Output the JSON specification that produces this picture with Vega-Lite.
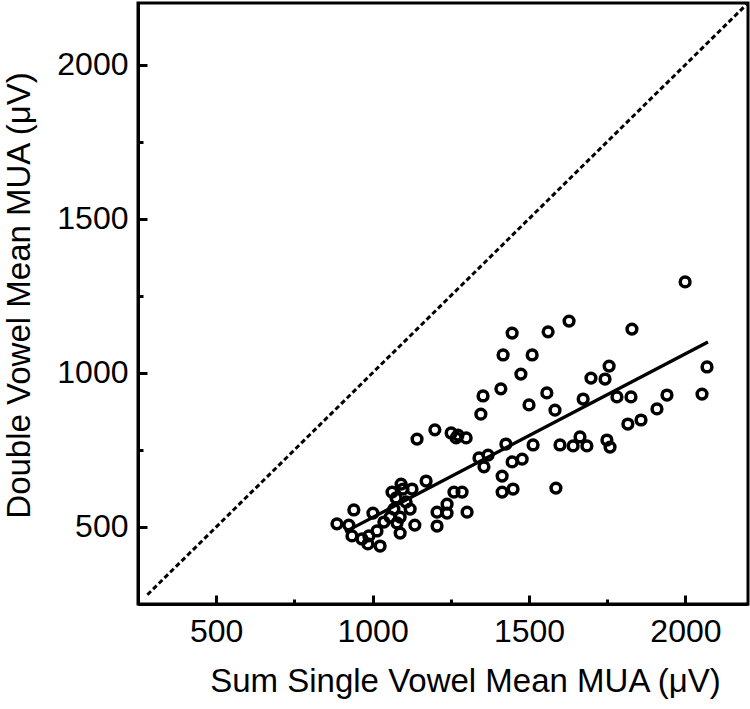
{
  "$schema": "https://vega.github.io/schema/vega-lite/v6.json",
  "autosize": {"type": "none"},
  "width": 610,
  "height": 601,
  "padding": {"left": 138, "top": 3, "right": 2, "bottom": 105},
  "background": "white",
  "config": {
    "view": {"stroke": "black", "strokeWidth": 3},
    "font": "Liberation Sans",
    "axis": {"grid": false, "domainColor": "black", "domainWidth": 3, "tickColor": "black", "labelColor": "black", "titleColor": "black", "labelFont": "Liberation Sans", "titleFont": "Liberation Sans", "titleFontWeight": "normal"}
  },
  "datasets": {
    "pts": [
      {"x": 1999, "y": 1295}, {"x": 1829, "y": 1142}, {"x": 1628, "y": 1168}, {"x": 1561, "y": 1133},
      {"x": 1446, "y": 1129}, {"x": 1417, "y": 1058}, {"x": 1510, "y": 1058}, {"x": 1474, "y": 996},
      {"x": 1410, "y": 948}, {"x": 1353, "y": 925}, {"x": 1346, "y": 866}, {"x": 2069, "y": 1019},
      {"x": 2053, "y": 931}, {"x": 1941, "y": 928}, {"x": 1909, "y": 883}, {"x": 1858, "y": 847},
      {"x": 1816, "y": 834}, {"x": 1826, "y": 922}, {"x": 1781, "y": 922}, {"x": 1673, "y": 915},
      {"x": 1557, "y": 935}, {"x": 1500, "y": 896}, {"x": 1583, "y": 879}, {"x": 1756, "y": 1022},
      {"x": 1698, "y": 983}, {"x": 1743, "y": 980}, {"x": 1426, "y": 769}, {"x": 1513, "y": 766},
      {"x": 1599, "y": 766}, {"x": 1641, "y": 763}, {"x": 1663, "y": 792}, {"x": 1685, "y": 763},
      {"x": 1749, "y": 782}, {"x": 1759, "y": 759}, {"x": 1446, "y": 711}, {"x": 1478, "y": 720},
      {"x": 1414, "y": 665}, {"x": 1449, "y": 623}, {"x": 1414, "y": 613}, {"x": 1586, "y": 626},
      {"x": 1142, "y": 785}, {"x": 1199, "y": 815}, {"x": 1251, "y": 805}, {"x": 1273, "y": 798},
      {"x": 1267, "y": 789}, {"x": 1299, "y": 789}, {"x": 1340, "y": 724}, {"x": 1369, "y": 733},
      {"x": 1356, "y": 695}, {"x": 1171, "y": 649}, {"x": 1091, "y": 639}, {"x": 1126, "y": 623},
      {"x": 1062, "y": 613}, {"x": 1097, "y": 623}, {"x": 1075, "y": 594}, {"x": 1107, "y": 581},
      {"x": 1120, "y": 558}, {"x": 1068, "y": 558}, {"x": 1260, "y": 613}, {"x": 1286, "y": 613},
      {"x": 1238, "y": 574}, {"x": 1206, "y": 548}, {"x": 1238, "y": 545}, {"x": 1302, "y": 548},
      {"x": 1135, "y": 506}, {"x": 1206, "y": 503}, {"x": 1088, "y": 480}, {"x": 1078, "y": 513},
      {"x": 1036, "y": 516}, {"x": 1056, "y": 532}, {"x": 1088, "y": 532}, {"x": 1001, "y": 545},
      {"x": 940, "y": 555}, {"x": 886, "y": 510}, {"x": 924, "y": 506}, {"x": 934, "y": 471},
      {"x": 966, "y": 461}, {"x": 988, "y": 471}, {"x": 985, "y": 445}, {"x": 1024, "y": 438},
      {"x": 1014, "y": 487}
    ],
    "fit": [{"x": 912, "y": 484}, {"x": 2072, "y": 1100}],
    "ident": [{"x": 280, "y": 280}, {"x": 2195, "y": 2195}]
  },
  "resolve": {"axis": {"x": "independent", "y": "independent"}},
  "layer": [
    {
      "data": {"name": "ident"},
      "mark": {"type": "line", "stroke": "black", "strokeWidth": 3, "strokeDash": [5, 3]},
      "encoding": {
        "x": {"field": "x", "type": "quantitative", "scale": {"domain": [250, 2200], "nice": false, "zero": false},
              "axis": {"orient": "bottom", "values": [750, 1250, 1750], "tickSize": -5, "tickWidth": 3, "labels": false, "domain": false, "title": null}},
        "y": {"field": "y", "type": "quantitative", "scale": {"domain": [250, 2200], "nice": false, "zero": false},
              "axis": {"orient": "left", "values": [250, 750, 1250, 1750], "tickSize": -5, "tickWidth": 3, "labels": false, "domain": false, "title": null}}
      }
    },
    {
      "data": {"name": "fit"},
      "mark": {"type": "line", "stroke": "black", "strokeWidth": 3.3},
      "encoding": {
        "x": {"field": "x", "type": "quantitative",
              "axis": {"orient": "bottom", "values": [500, 1000, 1500, 2000], "tickSize": -9, "tickWidth": 3, "labels": false, "domain": false, "title": null}},
        "y": {"field": "y", "type": "quantitative",
              "axis": {"orient": "left", "values": [500, 1000, 1500, 2000], "tickSize": -9, "tickWidth": 3, "labels": false, "domain": false, "title": null}}
      }
    },
    {
      "data": {"name": "pts"},
      "mark": {"type": "point", "shape": "circle", "filled": false, "stroke": "black", "strokeWidth": 3.5, "size": 95, "opacity": 1},
      "encoding": {
        "x": {"field": "x", "type": "quantitative",
              "axis": {"orient": "bottom", "values": [500, 1000, 1500, 2000], "format": "d", "ticks": false, "labelFontSize": 32, "labelPadding": 12, "title": "Sum Single Vowel Mean MUA (μV)", "titleFontSize": 33, "titlePadding": 18, "titleX": 327}},
        "y": {"field": "y", "type": "quantitative",
              "axis": {"orient": "left", "values": [500, 1000, 1500, 2000], "format": "d", "ticks": false, "labelFontSize": 32, "labelPadding": 10, "title": "Double Vowel Mean MUA (μV)", "titleFontSize": 33, "titlePadding": 20, "titleY": 292}}
      }
    }
  ]
}
